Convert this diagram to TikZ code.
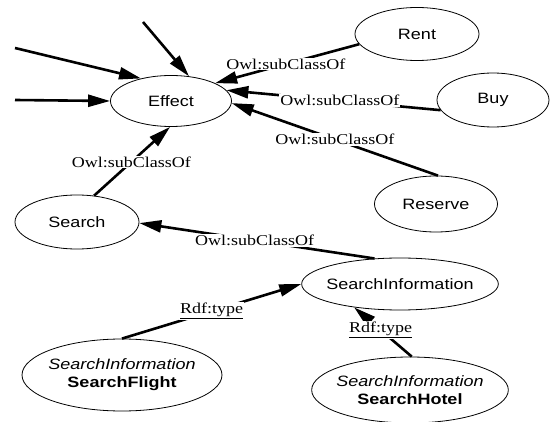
\documentclass[tikz,border=0pt]{standalone}
\usepackage{fontspec}
\setmainfont{Liberation Serif}[FakeStretch=1.2]
\newfontfamily\nodefont{Liberation Sans}[FakeStretch=1.2]
\usetikzlibrary{arrows.meta,shapes.geometric}
\tikzset{
  oval/.style={ellipse,draw,line width=0.8pt,inner xsep=-4pt,inner ysep=0pt,align=center,
    font=\nodefont\fontsize{15}{18}\selectfont},
  arr/.style={-{Triangle[length=22pt,width=12pt]},line width=2.6pt},
  lab/.style={fill=white,inner sep=1pt,font=\fontsize{15}{17}\selectfont},
}
\begin{document}
\begin{tikzpicture}[x=1pt,y=-1pt]
  \useasboundingbox (0,0) rectangle (550,422);
  \node[oval,minimum width=121pt,minimum height=51pt] (effect) at (171,101) {Effect};
  \node[oval,minimum width=124pt,minimum height=53pt] (rent) at (417,34) {Rent};
  \node[oval,minimum width=112pt,minimum height=54pt] (buy) at (493,100) {Buy};
  \node[oval,minimum width=123pt,minimum height=56pt] (reserve) at (436,204) {Reserve};
  \node[oval,minimum width=124pt,minimum height=54pt] (search) at (77,222) {Search};
  \node[oval,minimum width=196pt,minimum height=52pt] (sinfo) at (400,284) {SearchInformation};
  \node[oval,minimum width=200pt,minimum height=72pt] (sflight) at (122,375)
    {{\itshape SearchInformation}\\{\bfseries SearchFlight}};
  \node[oval,minimum width=196pt,minimum height=66pt] (shotel) at (410,390)
    {{\itshape SearchInformation}\\{\bfseries SearchHotel}};
  \coordinate (in1) at (15,48);
  \coordinate (in2) at (15,100);
  \coordinate (in3) at (143,22);
  \draw[arr] (in1) -- (effect.143);
  \draw[arr] (in2) -- (effect.180);
  \draw[arr] (in3) -- (effect.54);
  \draw[arr] (rent.190) -- node[lab,pos=0.51] {Owl:subClassOf} (effect.22);
  \draw[arr] (buy.191) -- node[lab,pos=0.47] {Owl:subClassOf} (effect.11);
  \draw[arr] (reserve.86) -- node[lab,pos=0.5] {Owl:subClassOf} (effect.358);
  \draw[arr] (search.57) -- node[lab,pos=0.49] {Owl:subClassOf} (effect.268);
  \draw[arr] (sinfo.135) -- node[lab,pos=0.51] {Owl:subClassOf} (search.359);
  \draw[arr] (sflight.90) -- node[lab,pos=0.5] {\underline{Rdf:type}} (sinfo.180);
  \draw[arr] (shotel.87) -- node[lab,pos=0.54] {\underline{Rdf:type}} (sinfo.207);
\end{tikzpicture}
\end{document}
